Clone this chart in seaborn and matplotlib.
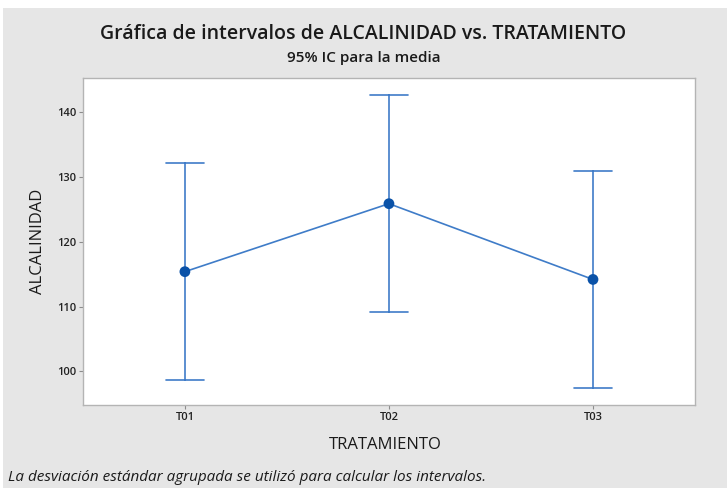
import numpy as np
import pandas as pd
import matplotlib.pyplot as plt
from matplotlib.patches import Rectangle
import seaborn as sns

# valores (media e IC 95%)
tratamientos = ["T01", "T02", "T03"]
medias = [115.4, 125.9, 114.2]
limite_inf = [98.7, 109.2, 97.5]
limite_sup = [132.2, 142.7, 130.9]
y_ticks = [100, 110, 120, 130, 140]

# tabla larga: inferior, media, superior por tratamiento
df = pd.DataFrame({
    "TRATAMIENTO": np.repeat(tratamientos, 3),
    "ALCALINIDAD": np.ravel(np.column_stack([limite_inf, medias, limite_sup])),
})

sns.set_style("white")
plt.rcParams["font.family"] = ["Open Sans", "DejaVu Sans"]

fig = plt.figure(figsize=(7.27, 4.88), dpi=100, facecolor="white")
fig.patches.append(Rectangle((0.004, 0), 0.996, 1 - 8 / 488, transform=fig.transFigure,
                             facecolor="#e6e6e6", edgecolor="none", zorder=-10))
ax = fig.add_axes([0.114, 0.170, 0.842, 0.670])
ax.set_facecolor("white")

sns.pointplot(data=df, x="TRATAMIENTO", y="ALCALINIDAD", estimator="median",
              errorbar=("pi", 100), capsize=0.185, color="#3f7cc8",
              markers="o", markersize=0, linewidth=1.2,
              err_kws={"linewidth": 1.2, "color": "#3f7cc8"}, ax=ax)
sns.scatterplot(x=tratamientos, y=medias, color="#0a52a8", s=60,
                edgecolor="none", zorder=5, ax=ax)

ax.set_xlim(-0.5, 2.5)
ax.set_ylim(94.8, 145.3)
ax.set_yticks(y_ticks)
ax.tick_params(axis="both", direction="out", length=3, width=0.8, color="#8c8c8c",
               labelsize=8, pad=2, left=True, bottom=True)
for lab in ax.get_xticklabels() + ax.get_yticklabels():
    lab.set_fontweight("semibold")
    lab.set_color("#222222")
for s in ax.spines.values():
    s.set_color("#b4b4b4")
    s.set_linewidth(1.0)
ax.set_xlabel("")
ax.set_ylabel("")

fig.text(0.5, 0.930, "Gráfica de intervalos de ALCALINIDAD vs. TRATAMIENTO",
         ha="center", va="center", fontsize=14, fontweight="semibold", color="#1a1a1a")
fig.text(0.5, 0.882, "95% IC para la media", ha="center", va="center",
         fontsize=11, fontweight="semibold", color="#1a1a1a")
fig.text(0.53, 0.088, "TRATAMIENTO", ha="center", va="center", fontsize=12,
         fontweight="medium", color="#1a1a1a")
fig.text(0.052, 0.506, "ALCALINIDAD", ha="center", va="center", rotation=90,
         fontsize=12, fontweight="medium", color="#1a1a1a")
fig.text(0.011, 0.022, "La desviación estándar agrupada se utilizó para calcular los intervalos.",
         ha="left", va="center", fontsize=11, style="italic", color="#1a1a1a")

fig.savefig("out.png", dpi=100, facecolor=fig.get_facecolor())
